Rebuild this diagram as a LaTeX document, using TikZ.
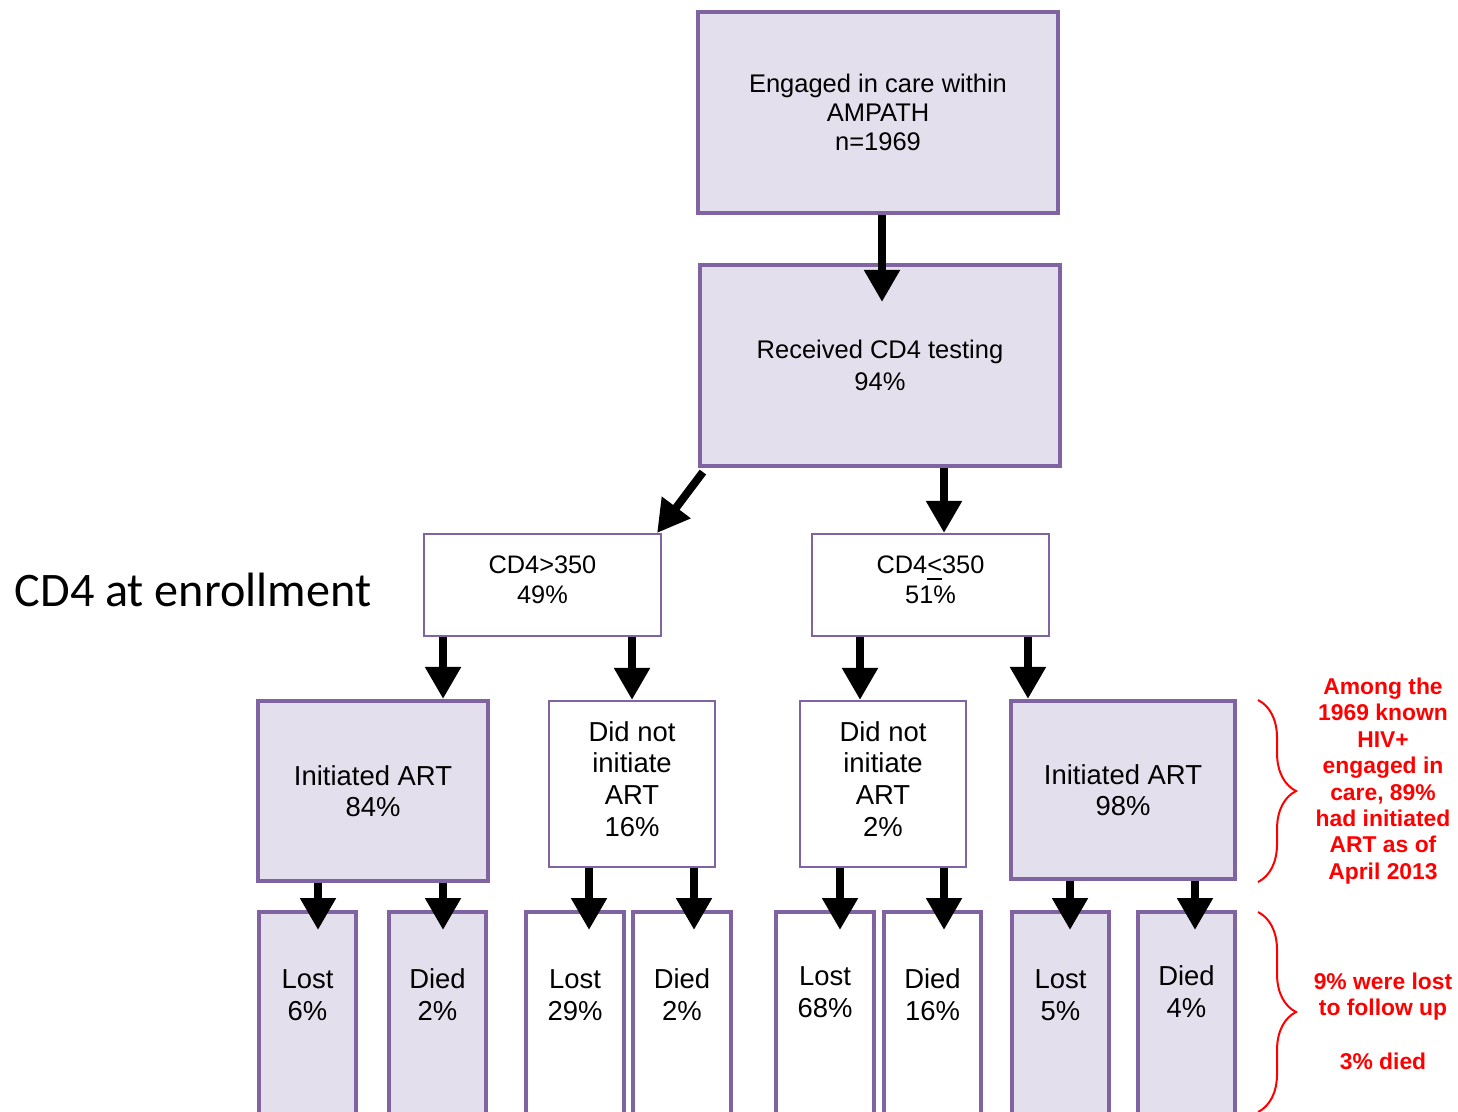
\documentclass[tikz,border=0pt]{standalone}
\usepackage{fontspec}
\setmainfont{Liberation Sans}
\newfontfamily\calibrifont{Carlito}
\usetikzlibrary{arrows.meta,decorations.pathreplacing}
\definecolor{lavande}{HTML}{E4DFEC}
\definecolor{bordviolet}{HTML}{8064A2}
\definecolor{rouge}{HTML}{FF0000}

\begin{document}
\begin{tikzpicture}[x=0.01cm, y=-0.01cm]

    % Styles
    \tikzstyle{filledbox} = [rectangle, draw=bordviolet, fill=lavande, line width=0.04cm, align=center, inner sep=0pt]
    \tikzstyle{plainbox} = [rectangle, draw=bordviolet, fill=white, line width=0.02cm, align=center, inner sep=0pt]
    \tikzstyle{lowfilled} = [filledbox, anchor=north, minimum width=0.97cm, minimum height=3cm]
    \tikzstyle{lowplain} = [lowfilled, fill=white]
    \tikzstyle{toptext} = [font=\fontsize{7.25}{8.2}\selectfont]
    \tikzstyle{midtext} = [font=\fontsize{7.2}{8.5}\selectfont]
    \tikzstyle{armtext} = [font=\fontsize{7.8}{9}\selectfont]
    \tikzstyle{lowtext} = [align=center, inner sep=0pt, font=\fontsize{7.8}{9.1}\selectfont]
    \tikzstyle{redtext} = [align=center, inner sep=0pt, text=rouge, font=\bfseries\fontsize{6.5}{7.5}\selectfont]
    \tikzstyle{redbrace} = [draw=rouge, line width=0.02cm, decorate, decoration={brace, amplitude=0.38cm}]
    \tikzstyle{arrow} = [line width=0.08cm, -{Triangle[width=0.34cm, length=0.32cm]}]

    \useasboundingbox (0,0) rectangle (1458,1111);
    \clip (0,0) rectangle (1458,1111);

    % Boites
    \node (engaged) [filledbox, toptext, minimum width=3.6cm, minimum height=2.01cm] at (878,112.5) {Engaged in care within\\AMPATH\\n=1969};
    \node (received) [filledbox, toptext, font=\fontsize{7.25}{9.3}\selectfont, minimum width=3.6cm, minimum height=2.01cm] at (880,365.5) {Received CD4 testing\\94\%};
    \node (high) [plainbox, midtext, minimum width=2.37cm, minimum height=1.02cm] at (542.5,585) {CD4>350\\49\%\\[-0.2cm]};
    \node (low) [plainbox, midtext, minimum width=2.37cm, minimum height=1.02cm] at (930.5,585) {CD4\underline{<}350\\51\%\\[-0.2cm]};

    \node (artA) [filledbox, armtext, minimum width=2.3cm, minimum height=1.8cm] at (373,791) {Initiated ART\\84\%};
    \node (noartA) [plainbox, armtext, minimum width=1.66cm, minimum height=1.66cm] at (632,784) {Did not\\initiate\\ART\\16\%\\[-0.21cm]};
    \node (noartB) [plainbox, armtext, minimum width=1.66cm, minimum height=1.66cm] at (883,784) {Did not\\initiate\\ART\\2\%\\[-0.21cm]};
    \node (artB) [filledbox, armtext, minimum width=2.24cm, minimum height=1.78cm] at (1123,790) {Initiated ART\\98\%};

    \node (lostA) [lowfilled] at (307.5,910) {};
    \node (diedA) [lowfilled] at (437.5,910) {};
    \node (lostB) [lowplain] at (575,910) {};
    \node (diedB) [lowplain] at (682,910) {};
    \node (lostC) [lowplain] at (825,910) {};
    \node (diedC) [lowplain] at (932.5,910) {};
    \node (lostD) [lowfilled] at (1060.5,910) {};
    \node (diedD) [lowfilled] at (1186.5,910) {};

    \node (lostAtxt) [lowtext] at ([yshift=-0.85cm]lostA.north) {Lost\\6\%};
    \node (diedAtxt) [lowtext] at ([yshift=-0.85cm]diedA.north) {Died\\2\%};
    \node (lostBtxt) [lowtext] at ([yshift=-0.85cm]lostB.north) {Lost\\29\%};
    \node (diedBtxt) [lowtext] at ([yshift=-0.85cm]diedB.north) {Died\\2\%};
    \node (lostCtxt) [lowtext] at ([yshift=-0.82cm]lostC.north) {Lost\\68\%};
    \node (diedCtxt) [lowtext] at ([yshift=-0.85cm]diedC.north) {Died\\16\%};
    \node (lostDtxt) [lowtext] at ([yshift=-0.85cm]lostD.north) {Lost\\5\%};
    \node (diedDtxt) [lowtext] at ([yshift=-0.82cm]diedD.north) {Died\\4\%};

    % Fleches
    \draw [arrow, shorten >=-0.39cm] ([xshift=0.02cm]received.north |- engaged.south) -- ([xshift=0.02cm]received.north);
    \draw [arrow] ([xshift=0.05cm, yshift=-0.04cm]received.south west) -- ([xshift=-0.05cm]high.north east);
    \draw [arrow] ([xshift=0.135cm]low.north |- received.south) -- ([xshift=0.135cm]low.north);

    \draw [arrow] ([xshift=0.7cm]artA.north |- high.south) -- ([xshift=0.7cm]artA.north);
    \draw [arrow] (noartA.north |- high.south) -- (noartA.north);
    \draw [arrow] ([xshift=-0.23cm]noartB.north |- low.south) -- ([xshift=-0.23cm]noartB.north);
    \draw [arrow] ([xshift=-0.95cm]artB.north |- low.south) -- ([xshift=-0.95cm]artB.north);

    \draw [arrow, shorten >=-0.2cm] ([xshift=0.105cm]lostA.north |- artA.south) -- ([xshift=0.105cm]lostA.north);
    \draw [arrow, shorten >=-0.2cm] ([xshift=0.055cm]diedA.north |- artA.south) -- ([xshift=0.055cm]diedA.north);
    \draw [arrow, shorten >=-0.2cm] ([xshift=0.14cm]lostB.north |- noartA.south) -- ([xshift=0.14cm]lostB.north);
    \draw [arrow, shorten >=-0.2cm] ([xshift=0.12cm]diedB.north |- noartA.south) -- ([xshift=0.12cm]diedB.north);
    \draw [arrow, shorten >=-0.2cm] ([xshift=0.15cm]lostC.north |- noartB.south) -- ([xshift=0.15cm]lostC.north);
    \draw [arrow, shorten >=-0.2cm] ([xshift=0.115cm]diedC.north |- noartB.south) -- ([xshift=0.115cm]diedC.north);
    \draw [arrow, shorten >=-0.2cm] ([xshift=0.095cm]lostD.north |- artB.south) -- ([xshift=0.095cm]lostD.north);
    \draw [arrow, shorten >=-0.2cm] ([xshift=0.085cm]diedD.north |- artB.south) -- ([xshift=0.085cm]diedD.north);

    % Annotations
    \node (enrol) [anchor=west, inner sep=0pt, font=\calibrifont\fontsize{13.7}{16}\selectfont] at (14,590) {CD4 at enrollment};
    \draw [redbrace] (1258,700) -- (1258,882);
    \draw [redbrace] (1258,912) -- (1258,1112);
    \node (noteart) [redtext] at (1383,781) {Among the\\1969 known\\HIV+\\engaged in\\care, 89\%\\had initiated\\ART as of\\April 2013};
    \node (noteloss) [redtext] at (1383,1021) {9\% were lost\\to follow up\\[0.27cm]3\% died};

\end{tikzpicture}
\end{document}
